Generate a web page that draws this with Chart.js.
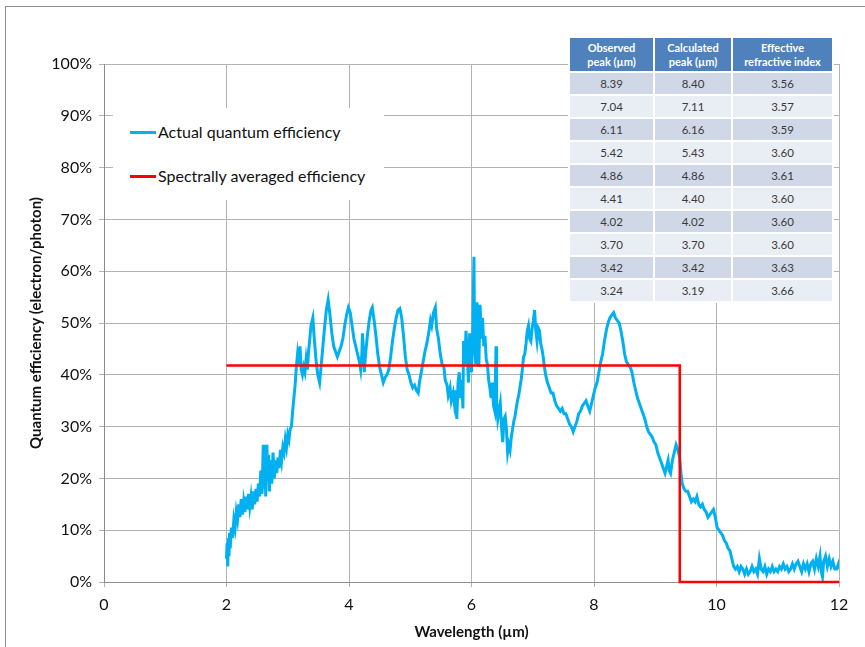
<!DOCTYPE html>
<html>
<head>
<meta charset="utf-8">
<script src="https://cdn.jsdelivr.net/npm/chart.js@4.4.0/dist/chart.umd.min.js"></script>
<style>
  html, body { margin: 0; padding: 0; background: #fff; overflow: hidden; }
  #wrap { position: relative; width: 865px; height: 647px; }
  #frame { position: absolute; left: 5px; top: 6px; width: 900px; height: 700px;
    border-left: 1px solid #8c8c8c; border-top: 1px solid #8c8c8c; }
  canvas { position: absolute; left: 0; top: 0; }
  #legend { position: absolute; left: 113px; top: 108px; width: 271px; height: 92px;
    background: #fff; font-family: Lato, "Open Sans", sans-serif; font-size: 16px; color: #111; }
  .leg-item { position: absolute; left: 17px; white-space: nowrap; }
  .leg-item span { display: inline-block; width: 26px; height: 3px; vertical-align: middle;
    margin-right: 2px; position: relative; top: -1px; }
  #peaks { position: absolute; left: 568px; top: 36px; border-collapse: separate;
    border-spacing: 2px; background: #fff; font-family: Lato, "Open Sans", sans-serif;
    table-layout: fixed; width: 266px; }
  #peaks th { background: #4f81bd; color: #fff; font-size: 11px; font-weight: bold;
    line-height: 14px; height: 33px; padding: 0; text-align: center; }
  #peaks td { font-size: 11.5px; color: #3a3a3a; text-align: center; height: 21px; padding: 0; }
  #peaks tr.dark td { background: #d0d8e8; }
  #peaks tr.light td { background: #e9edf4; }
</style>
</head>
<body>
<div id="wrap">
  <div id="frame"></div>
  <canvas id="qe" width="865" height="647"></canvas>
  <div id="legend">
    <div class="leg-item" style="top:14px"><span style="background:#00b0f0"></span>Actual quantum efficiency</div>
    <div class="leg-item" style="top:58px"><span style="background:#ff0000"></span>Spectrally averaged efficiency</div>
  </div>
  <table id="peaks">
    <thead><tr>
      <th style="width:83px">Observed<br>peak (µm)</th>
      <th style="width:76px">Calculated<br>peak (µm)</th>
      <th style="width:99px">Effective<br>refractive index</th>
    </tr></thead>
    <tbody id="peak-body"></tbody>
  </table>
</div>
<script>
(function () {
  "use strict";

  const WAVELENGTH = [
    2.00, 2.01, 2.02, 2.03, 2.04, 2.05, 2.06, 2.08, 2.10, 2.12, 2.14, 2.16, 2.18, 2.20, 2.22, 2.24,
    2.26, 2.28, 2.30, 2.32, 2.34, 2.36, 2.38, 2.40, 2.42, 2.44, 2.46, 2.48, 2.50, 2.52, 2.54, 2.56,
    2.58, 2.60, 2.61, 2.63, 2.64, 2.66, 2.67, 2.69, 2.70, 2.72, 2.74, 2.76, 2.78, 2.80, 2.82, 2.84,
    2.86, 2.88, 2.90, 2.92, 2.94, 2.96, 2.98, 3.00, 3.02, 3.04, 3.06, 3.08, 3.10, 3.12, 3.14, 3.16,
    3.18, 3.20, 3.22, 3.24, 3.26, 3.28, 3.30, 3.32, 3.34, 3.36, 3.38, 3.41, 3.43, 3.46, 3.49, 3.52,
    3.54, 3.57, 3.60, 3.63, 3.66, 3.69, 3.72, 3.75, 3.78, 3.81, 3.84, 3.87, 3.90, 3.93, 3.96, 3.99,
    4.02, 4.05, 4.08, 4.11, 4.14, 4.17, 4.19, 4.21, 4.22, 4.24, 4.25, 4.27, 4.30, 4.33, 4.36, 4.38,
    4.41, 4.44, 4.47, 4.50, 4.53, 4.56, 4.59, 4.62, 4.65, 4.68, 4.71, 4.74, 4.77, 4.80, 4.83, 4.86,
    4.89, 4.92, 4.95, 4.98, 5.01, 5.04, 5.07, 5.10, 5.13, 5.15, 5.18, 5.21, 5.24, 5.27, 5.30, 5.33,
    5.35, 5.38, 5.41, 5.43, 5.46, 5.49, 5.52, 5.55, 5.57, 5.60, 5.62, 5.65, 5.67, 5.70, 5.72, 5.74,
    5.76, 5.78, 5.80, 5.82, 5.84, 5.86, 5.87, 5.89, 5.91, 5.93, 5.95, 5.97, 5.99, 6.00, 6.02, 6.04,
    6.05, 6.07, 6.09, 6.11, 6.12, 6.14, 6.16, 6.18, 6.20, 6.22, 6.24, 6.26, 6.28, 6.30, 6.32, 6.34,
    6.36, 6.38, 6.40, 6.41, 6.43, 6.45, 6.47, 6.49, 6.51, 6.53, 6.55, 6.57, 6.59, 6.61, 6.63, 6.65,
    6.67, 6.69, 6.71, 6.73, 6.75, 6.77, 6.79, 6.81, 6.83, 6.85, 6.87, 6.89, 6.91, 6.93, 6.95, 6.97,
    6.99, 7.01, 7.03, 7.05, 7.07, 7.09, 7.11, 7.13, 7.15, 7.17, 7.19, 7.21, 7.24, 7.27, 7.30, 7.33,
    7.36, 7.39, 7.42, 7.45, 7.48, 7.51, 7.54, 7.57, 7.60, 7.63, 7.66, 7.69, 7.72, 7.75, 7.78, 7.81,
    7.84, 7.87, 7.90, 7.93, 7.96, 7.99, 8.02, 8.05, 8.08, 8.11, 8.14, 8.17, 8.20, 8.23, 8.26, 8.29,
    8.32, 8.35, 8.38, 8.41, 8.44, 8.47, 8.50, 8.53, 8.56, 8.59, 8.62, 8.65, 8.68, 8.71, 8.74, 8.77,
    8.80, 8.83, 8.86, 8.89, 8.92, 8.95, 8.98, 9.01, 9.04, 9.07, 9.10, 9.13, 9.16, 9.19, 9.21, 9.23,
    9.25, 9.28, 9.31, 9.34, 9.37, 9.40, 9.42, 9.44, 9.47, 9.50, 9.53, 9.56, 9.59, 9.62, 9.65, 9.68,
    9.71, 9.74, 9.77, 9.80, 9.83, 9.86, 9.89, 9.92, 9.95, 9.98, 10.01, 10.04, 10.07, 10.10, 10.13, 10.16,
    10.19, 10.22, 10.25, 10.28, 10.31, 10.34, 10.37, 10.40, 10.43, 10.46, 10.49, 10.52, 10.55, 10.58, 10.61, 10.64,
    10.67, 10.70, 10.73, 10.76, 10.79, 10.82, 10.85, 10.88, 10.91, 10.94, 10.97, 11.00, 11.03, 11.06, 11.09, 11.12,
    11.15, 11.18, 11.21, 11.24, 11.27, 11.30, 11.33, 11.36, 11.39, 11.42, 11.45, 11.48, 11.51, 11.54, 11.57, 11.60,
    11.63, 11.66, 11.69, 11.71, 11.73, 11.75, 11.78, 11.81, 11.84, 11.87, 11.90, 11.93, 11.96, 11.99, 12.00
  ];
  const QE = [
    4.5, 7.5, 3.0, 8.5, 5.0, 9.5, 6.5, 10.5, 8.5, 12.0, 10.5, 13.5, 12.0, 15.0, 12.5, 16.0,
    13.0, 15.5, 13.5, 16.5, 14.0, 17.0, 14.5, 16.5, 14.0, 17.5, 15.0, 18.0, 15.5, 19.0, 16.5, 21.5,
    17.0, 26.5, 18.0, 23.0, 16.5, 26.5, 19.5, 24.5, 17.5, 23.5, 19.0, 25.0, 20.0, 23.5, 21.0, 24.0,
    22.0, 25.5, 23.5, 26.0, 25.0, 27.5, 26.0, 28.5, 27.5, 29.5, 30.0, 33.0, 35.5, 38.0, 41.5, 44.0,
    42.0, 45.5, 41.0, 40.0, 41.5, 40.5, 43.0, 41.0, 44.5, 47.0, 49.5, 51.0, 47.5, 43.0, 40.0, 38.5,
    41.0, 45.0, 49.0, 52.5, 54.5, 51.5, 48.0, 45.5, 44.5, 43.5, 44.5, 45.5, 47.0, 49.5, 51.5, 53.0,
    52.0, 49.5, 47.0, 45.5, 44.0, 42.5, 41.0, 44.0, 48.0, 44.0, 40.5, 44.0, 47.5, 50.5, 52.5, 53.0,
    50.5, 47.5, 44.0, 41.5, 40.0, 38.5, 39.5, 40.0, 41.0, 43.5, 46.5, 49.0, 51.0, 52.5, 52.8, 51.0,
    47.5, 43.5, 41.0, 40.0, 38.5, 37.5, 38.0, 37.0, 36.5, 38.5, 40.5, 42.5, 44.5, 46.0, 48.0, 50.5,
    49.5, 52.0, 53.0, 49.0, 47.0, 44.0, 42.0, 41.5, 39.0, 38.0, 36.0, 37.5, 35.0, 36.5, 34.5, 37.0,
    31.5, 38.5, 40.5, 35.5, 39.0, 33.5, 46.5, 42.0, 48.5, 44.0, 38.5, 48.0, 45.0, 40.5, 47.5, 62.8,
    46.0, 42.0, 54.0, 44.5, 41.5, 53.5, 47.0, 51.0, 45.5, 47.5, 43.0, 42.0, 39.0, 37.5, 35.5, 38.5,
    34.0, 33.0, 45.5, 35.0, 31.5, 33.0, 34.5, 30.0, 27.0, 31.5, 32.0, 29.5, 25.0, 26.5, 25.5, 28.0,
    29.5, 31.0, 32.0, 33.5, 35.0, 36.0, 37.5, 39.0, 41.0, 43.5, 44.0, 46.0, 48.5, 49.5, 47.0, 46.5,
    49.0, 50.5, 52.5, 48.5, 46.5, 49.0, 48.5, 46.0, 45.0, 43.5, 41.5, 40.0, 38.5, 37.5, 36.5, 36.5,
    35.0, 34.0, 33.5, 33.0, 33.5, 32.5, 32.5, 31.5, 30.5, 30.0, 29.0, 30.0, 31.0, 32.5, 33.0, 34.0,
    34.5, 35.0, 34.0, 33.0, 34.5, 36.0, 37.5, 38.5, 40.5, 42.5, 44.0, 46.5, 48.5, 50.0, 51.0, 51.5,
    52.0, 51.0, 50.5, 50.0, 48.5, 46.5, 44.0, 42.5, 42.0, 41.5, 40.5, 38.5, 37.0, 35.5, 34.5, 33.5,
    32.5, 31.5, 30.0, 29.0, 28.5, 28.0, 27.0, 26.5, 25.0, 24.0, 23.0, 22.0, 21.0, 22.5, 23.5, 21.5,
    21.0, 23.5, 25.0, 26.5, 25.5, 24.0, 21.0, 19.0, 18.0, 17.5, 17.5, 16.5, 15.5, 16.0, 15.5, 16.5,
    15.0, 14.5, 15.0, 14.0, 13.5, 12.5, 13.0, 13.5, 14.0, 12.5, 10.5, 10.0, 9.5, 9.0, 8.0, 7.5,
    6.5, 6.0, 4.5, 3.0, 2.5, 3.0, 2.0, 3.0, 2.5, 1.5, 2.5, 1.5, 2.0, 3.0, 2.0, 2.5,
    1.5, 4.5, 2.5, 2.0, 3.0, 1.5, 2.5, 2.0, 3.0, 2.0, 2.5, 2.0, 3.0, 2.5, 3.5, 2.5,
    3.0, 2.0, 2.5, 3.5, 2.5, 3.5, 4.0, 3.0, 2.0, 3.5, 2.5, 3.5, 2.0, 3.5, 4.0, 2.5,
    4.5, 3.0, 5.0, 2.0, 1.0, 4.0, 5.0, 3.0, 4.5, 3.0, 4.0, 2.5, 2.5, 3.5, 2.5
  ];

  // spectrally averaged efficiency (step)
  const AVG_X = [2, 9.4, 9.4, 12];
  const AVG_Y = [41.8, 41.8, 0, 0];

  // inset table
  const OBSERVED_PEAK = ["8.39", "7.04", "6.11", "5.42", "4.86", "4.41", "4.02", "3.70", "3.42", "3.24"];
  const CALCULATED_PEAK = ["8.40", "7.11", "6.16", "5.43", "4.86", "4.40", "4.02", "3.70", "3.42", "3.19"];
  const REFRACTIVE_INDEX = ["3.56", "3.57", "3.59", "3.60", "3.61", "3.60", "3.60", "3.60", "3.63", "3.66"];

  const X_TICKS = [0, 2, 4, 6, 8, 10, 12];

  const FONT = "Lato, 'Open Sans', sans-serif";
  const GRID = "#b3b3b3";

  function pts(xs, ys) {
    return xs.map((x, i) => ({ x: x, y: ys[i] }));
  }

  function renderTable() {
    const body = document.getElementById("peak-body");
    body.innerHTML = OBSERVED_PEAK.map((v, i) =>
      `<tr class="${i % 2 ? "light" : "dark"}"><td>${v}</td><td>${CALCULATED_PEAK[i]}</td><td>${REFRACTIVE_INDEX[i]}</td></tr>`
    ).join("");
  }

  function renderChart() {
    new Chart(document.getElementById("qe"), {
      type: "line",
      data: {
        datasets: [
          {
            label: "Spectrally averaged efficiency",
            data: pts(AVG_X, AVG_Y),
            borderColor: "#ff0000",
            borderWidth: 2.5,
            pointRadius: 0,
            tension: 0,
            clip: 4,
            order: 0,
          },
          {
            label: "Actual quantum efficiency",
            data: pts(WAVELENGTH, QE),
            borderColor: "#00b0f0",
            borderWidth: 3,
            pointRadius: 0,
            tension: 0,
            order: 1,
          },
        ],
      },
      options: {
        responsive: false,
        animation: false,
        events: [],
        layout: { padding: { left: 23, top: 64, right: 26, bottom: 2 } },
        plugins: { legend: { display: false }, tooltip: { enabled: false } },
        scales: {
          x: {
            type: "linear",
            min: 0,
            max: 12,
            afterBuildTicks(scale) {
              scale.ticks = X_TICKS.map((v) => ({ value: v }));
            },
            afterFit(scale) { scale.height = 63; },
            ticks: { color: "#111", font: { family: FONT, size: 16 }, padding: 8, maxRotation: 0 },
            grid: { color: GRID, tickLength: 5 },
            border: { color: "#8c8c8c" },
            title: {
              display: true,
              text: "Wavelength (µm)",
              color: "#111",
              font: { family: FONT, size: 15, weight: "bold" },
              padding: { top: 4, bottom: 4 },
            },
          },
          y: {
            min: 0,
            max: 100,
            afterFit(scale) { scale.width = 81; },
            ticks: {
              stepSize: 10,
              color: "#111",
              font: { family: FONT, size: 16 },
              padding: 7,
              callback: (v) => v + "%",
            },
            grid: { color: GRID, tickLength: 5 },
            border: { color: "#8c8c8c" },
            title: {
              display: true,
              text: "Quantum efficiency (electron/photon)",
              color: "#111",
              font: { family: FONT, size: 15, weight: "bold" },
              padding: { top: 4, bottom: 4 },
            },
          },
        },
      },
    });
  }

  renderTable();
  renderChart();
})();
</script>
</body>
</html>
